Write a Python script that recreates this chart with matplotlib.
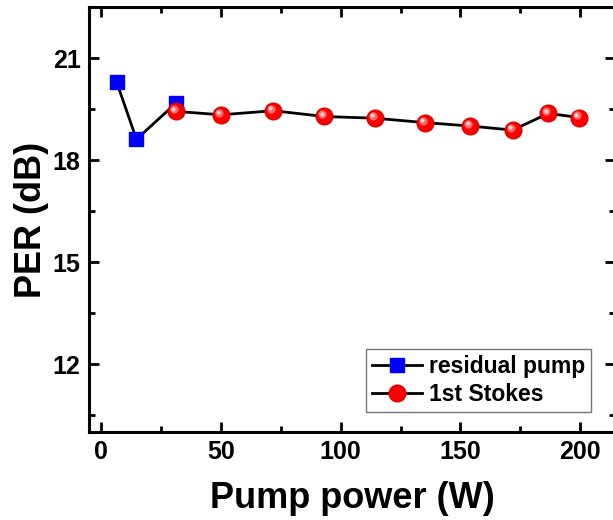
import matplotlib
matplotlib.use('Agg')
import matplotlib.pyplot as plt
import matplotlib.ticker as ticker
import matplotlib.transforms as mtransforms

plt.rcParams['font.family'] = ['Liberation Sans', 'DejaVu Sans']
plt.rcParams['font.weight'] = 'bold'

# residual pump (blue squares)
pump_x = [6.6, 14.8, 31.4]
pump_per = [20.28, 18.61, 19.68]

# 1st Stokes (red balls)
stokes_x = [31.4, 50.1, 71.9, 93.2, 114.2, 135.3, 154.2, 171.8, 186.7, 199.6]
stokes_per = [19.43, 19.33, 19.45, 19.28, 19.23, 19.10, 19.00, 18.88, 19.37, 19.25]

fig = plt.figure(figsize=(6.13, 5.2), dpi=100)
ax = fig.add_axes([0.1452, 0.1692, 0.858, 0.8173])

ax.plot(pump_x, pump_per, color='black', lw=2, marker='s', ms=10,
        mfc='#0000ff', mec='#0000ff', label='residual pump', zorder=3)
ax.plot(stokes_x, stokes_per, color='black', lw=2, marker='o', ms=12,
        mfc='#ff0000', mec='#e00000', label='1st Stokes', zorder=4)
# little highlight so the circles look like balls
hl = mtransforms.offset_copy(ax.transData, fig=fig, x=-1.5, y=1.5, units='points')
ax.plot(stokes_x, stokes_per, ls='none', marker='o', ms=6, mfc='#ff8080',
        mec='none', alpha=0.8, transform=hl, zorder=5)
hl2 = mtransforms.offset_copy(ax.transData, fig=fig, x=-2.0, y=2.0, units='points')
ax.plot(stokes_x, stokes_per, ls='none', marker='o', ms=3, mfc='#ffe0e0',
        mec='none', alpha=0.9, transform=hl2, zorder=6)

ax.set_xlim(-5, 214.5)
ax.set_ylim(10, 22.5)
ax.xaxis.set_major_locator(ticker.MultipleLocator(50))
ax.xaxis.set_minor_locator(ticker.MultipleLocator(25))
ax.yaxis.set_major_locator(ticker.MultipleLocator(3))
ax.yaxis.set_minor_locator(ticker.FixedLocator([10.5, 13.5, 16.5, 19.5, 22.5]))

ax.tick_params(which='both', direction='in', top=True, right=True, width=2)
ax.tick_params(which='major', length=7, labelsize=18, pad=6)
ax.tick_params(which='minor', length=4)
for s in ax.spines.values():
    s.set_linewidth(2.2)

ax.set_xlabel('Pump power (W)', fontsize=26, fontweight='bold', labelpad=12)
ax.set_ylabel('PER (dB)', fontsize=26, fontweight='bold', labelpad=3)

leg = ax.legend(loc='lower right', bbox_to_anchor=(0.976, 0.02),
                frameon=True, fancybox=False, edgecolor='#555555',
                handlelength=2.2, handletextpad=0.3, borderpad=0.25,
                labelspacing=0.25, prop={'weight': 'bold', 'size': 16.5})
leg.get_frame().set_linewidth(1)

fig.savefig('out.png', dpi=100)
